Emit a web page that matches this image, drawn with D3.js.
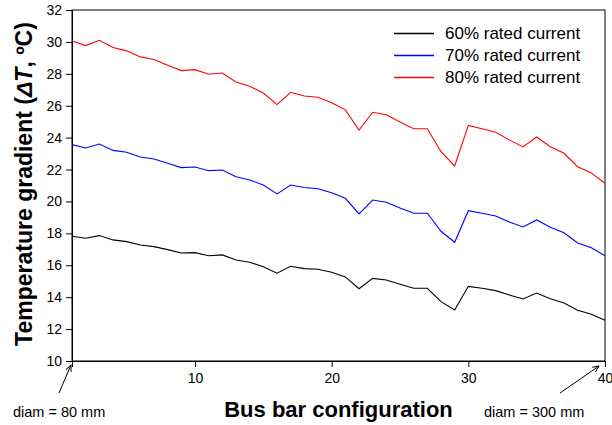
<!DOCTYPE html>
<html><head><meta charset="utf-8">
<script src="https://cdn.jsdelivr.net/npm/d3@7"></script>
<style>body{margin:0;background:#fff}svg{display:block}text{font-family:"Liberation Sans",Arial,sans-serif}</style>
</head><body>
<script>
const configs = d3.range(1, 41);
const current60 = [17.82,17.69,17.86,17.59,17.48,17.27,17.17,16.98,16.77,16.79,16.60,16.65,16.33,16.19,15.91,15.50,15.94,15.79,15.75,15.56,15.27,14.53,15.18,15.08,14.81,14.56,14.56,13.72,13.20,14.68,14.56,14.41,14.14,13.89,14.26,13.90,13.64,13.18,12.93,12.55];
const current70 = [23.56,23.35,23.60,23.20,23.08,22.79,22.66,22.39,22.12,22.16,21.93,21.97,21.55,21.35,21.03,20.47,21.03,20.87,20.80,20.55,20.20,19.22,20.09,19.95,19.59,19.26,19.26,18.13,17.44,19.42,19.26,19.09,18.71,18.40,18.84,18.38,18.04,17.40,17.10,16.60];
const current80 = [30.06,29.77,30.10,29.65,29.44,29.06,28.90,28.54,28.20,28.26,27.97,28.05,27.49,27.22,26.80,26.07,26.84,26.61,26.53,26.19,25.74,24.48,25.59,25.44,24.98,24.56,24.56,23.12,22.23,24.77,24.56,24.34,23.86,23.42,24.04,23.43,23.02,22.18,21.79,21.14];
const seriesNames = ["60% rated current","70% rated current","80% rated current"];
const seriesColors = ["#000000","#0000ff","#ff0000"];
const xTicks = [10,20,30,40];
const yTicks = d3.range(10, 33, 2);
const xTitle = "Bus bar configuration";
const annotations = [{text:"diam = 80 mm", x:1}, {text:"diam = 300 mm", x:40}];

const W = 612, H = 425;
const L = 72, R = 605, T = 10, B = 361;
const svg = d3.select("body").append("svg").attr("width", W).attr("height", H);
const x = d3.scaleLinear().domain([1, 40]).range([L, R]);
const y = d3.scaleLinear().domain([10, 32]).range([B, T]);

// frame
svg.append("rect").attr("x", L).attr("y", T).attr("width", R - L).attr("height", B - T)
  .attr("fill", "none").attr("stroke", "#000").attr("stroke-width", 1);

const xAxis = svg.append("g").attr("transform", `translate(0,${B})`)
  .call(d3.axisBottom(x).tickValues(xTicks).tickSize(6).tickPadding(6).tickFormat(d3.format("d")));
const yAxis = svg.append("g").attr("transform", `translate(${L},0)`)
  .call(d3.axisLeft(y).tickValues(yTicks).tickSize(6).tickPadding(4).tickFormat(d3.format("d")));
[xAxis, yAxis].forEach(g => {
  g.select(".domain").attr("stroke", "#000");
  g.selectAll("line").attr("stroke", "#000");
  g.selectAll("text").attr("font-size", 14).attr("fill", "#000").style("font-family", '"Liberation Sans",Arial,sans-serif');
});

const line = d3.line().x((d, i) => x(configs[i])).y(d => y(d));
[current60, current70, current80].forEach((s, k) => {
  svg.append("path").datum(s).attr("d", line).attr("fill", "none")
    .attr("stroke", seriesColors[k]).attr("stroke-width", 1.1);
});

// legend
const legendY = [33.5, 55.5, 77.5];
seriesNames.forEach((n, k) => {
  const ly = legendY[k];
  svg.append("path").attr("d", `M394,${ly}H434`).attr("fill", "none")
    .attr("stroke", seriesColors[k]).attr("stroke-width", 1.3);
  svg.append("text").attr("x", 445).attr("y", ly).attr("dy", "0.35em")
    .attr("font-size", 17).text(n);
});

// titles
svg.append("text").attr("x", (L + R) / 2).attr("y", 417).attr("text-anchor", "middle")
  .attr("font-size", 22).attr("font-weight", "bold").text(xTitle);
const yt = svg.append("text").attr("transform", "translate(32,184) rotate(-90)")
  .attr("text-anchor", "middle").attr("font-size", 23).attr("font-weight", "bold");
yt.append("tspan").text("Temperature gradient (");
yt.append("tspan").attr("font-style", "italic").text("\u0394T");
yt.append("tspan").text(", \u00baC)");

// annotations
const defs = svg.append("defs");
defs.append("marker").attr("id", "ah").attr("viewBox", "0 0 10 10").attr("refX", 9).attr("refY", 5)
  .attr("markerWidth", 7).attr("markerHeight", 7).attr("orient", "auto")
  .append("path").attr("d", "M0,1 L9,5 L0,9").attr("fill", "none").attr("stroke", "#000").attr("stroke-width", 1.4);
svg.append("line").attr("x1", 59).attr("y1", 393).attr("x2", x(annotations[0].x) - 1).attr("y2", 365)
  .attr("stroke", "#000").attr("marker-end", "url(#ah)");
svg.append("line").attr("x1", 560).attr("y1", 393).attr("x2", x(annotations[1].x) - 6).attr("y2", 366)
  .attr("stroke", "#000").attr("marker-end", "url(#ah)");
svg.append("text").attr("x", 13).attr("y", 417).attr("font-size", 14.5).text(annotations[0].text);
svg.append("text").attr("x", 484).attr("y", 417).attr("font-size", 14.5).text(annotations[1].text);
</script>
</body></html>
